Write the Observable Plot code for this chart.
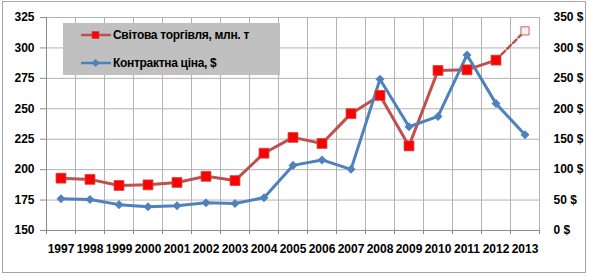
<!DOCTYPE html>
<html><head><meta charset="utf-8">
<script src="https://cdn.jsdelivr.net/npm/d3@7"></script>
<script src="https://cdn.jsdelivr.net/npm/@observablehq/plot@0.6"></script>
<style>
body{margin:0;background:#fff;}
#wrap{position:relative;width:590px;height:276px;font-family:"Liberation Sans",Arial,sans-serif;}
#frame{position:absolute;left:2px;top:1px;width:584px;height:272px;border:1px solid #a6a6a6;box-sizing:border-box;pointer-events:none;}
#legend{position:absolute;left:63px;top:23px;width:217px;height:52px;background:#c0c0c0;font-weight:bold;font-size:12px;letter-spacing:-0.3px;color:#000;}
.item{position:absolute;left:0;height:14px;display:flex;align-items:center;}
.item svg{margin-left:18px;margin-right:2px;}
</style>
</head><body>
<div id="wrap">
<div id="chart"></div>
<div id="legend">
  <div class="item" style="top:5px"><svg width="30" height="12"><line x1="0" y1="6" x2="30" y2="6" stroke="#c0504d" stroke-width="2.5"/><rect x="11" y="2.5" width="7" height="7" fill="#ff0000" stroke="#c0504d" stroke-width="0.7"/></svg><span>Світова торгівля, млн. т</span></div>
  <div class="item" style="top:33px"><svg width="30" height="12"><line x1="0" y1="6" x2="30" y2="6" stroke="#4f81bd" stroke-width="2.5"/><path d="M14.5,2 L18.5,6 L14.5,10 L10.5,6 Z" fill="#4f81bd"/></svg><span>Контрактна ціна, $</span></div>
</div>
<div id="frame"></div>
</div>
<script>
const years = [1997,1998,1999,2000,2001,2002,2003,2004,2005,2006,2007,2008,2009,2010,2011,2012,2013];
// World trade, mln t (left axis) 1997-2012 actual
const trade = [193,192,187,187.5,189.5,194.5,191,213.5,226.5,221.5,246,261,219.5,281.5,282,290];
// Forecast 2013 (hollow marker)
const tradeForecastYears = [2012,2013];
const tradeForecast = [290,314];
// Contract price, $ (right axis)
const price = [52,51,42.5,39,40.5,45.5,44.5,54,107,116,100.5,248.5,170.5,187.5,288.5,208.5,157.5];
const leftTicks = [150,175,200,225,250,275,300,325];
const rightTicks = [0,50,100,150,200,250,300,350];

const toLeft = v => 150 + v * (175/350);
const fromLeft = d => Math.round((d - 150) * 350/175);

const tradeData = trade.map((v,i)=>({year:years[i], v}));
const fcData = tradeForecast.map((v,i)=>({year:tradeForecastYears[i], v}));
const priceData = price.map((v,i)=>({year:years[i], v:toLeft(v)}));
const bounds = years.map(y=>y-0.5).concat([years[years.length-1]+0.5]);

const diamond = {draw(ctx, size){const h=Math.sqrt(size/2);ctx.moveTo(0,-h);ctx.lineTo(h,0);ctx.lineTo(0,h);ctx.lineTo(-h,0);ctx.closePath();}};
const font = {fontFamily:'"Liberation Sans",Arial,sans-serif', fontSize:12, fontWeight:"bold", fill:"#000"};

const chart = Plot.plot({
  width:590, height:276,
  marginLeft:46, marginRight:51, marginTop:17, marginBottom:46,
  style:{background:"transparent", color:"#000", fontFamily:'"Liberation Sans",Arial,sans-serif', fontSize:"12px", fontWeight:"bold"},
  x:{domain:[1996.5,2013.5], axis:null},
  y:{domain:[150,325], axis:null},
  marks:[
    Plot.gridX(bounds, {stroke:"#b3b3b3", strokeOpacity:1}),
    Plot.gridY(leftTicks, {stroke:"#b3b3b3", strokeOpacity:1}),
    Plot.ruleX([bounds[0]], {stroke:"#8c8c8c"}),
    Plot.ruleY([leftTicks[0]], {stroke:"#8c8c8c"}),
    Plot.axisY(leftTicks, {anchor:"left", tickSize:6, tickPadding:6, stroke:"#8c8c8c", ...font, label:null}),
    Plot.axisY(rightTicks.map(toLeft), {anchor:"right", tickSize:0, tickPadding:14, tickFormat:d=>fromLeft(d)+" $", ...font, textAnchor:"start", label:null}),
    Plot.axisX(bounds, {anchor:"bottom", tickSize:4, tickFormat:()=>"", stroke:"#8c8c8c", label:null}),
    Plot.axisX(years, {anchor:"bottom", tickSize:0, tickPadding:14, tickFormat:"d", ...font, label:null}),
    Plot.line(fcData, {x:"year", y:"v", stroke:"#c0504d", strokeWidth:2.5, strokeDasharray:"5,3"}),
    Plot.line(tradeData, {x:"year", y:"v", stroke:"#c0504d", strokeWidth:3}),
    Plot.line(priceData, {x:"year", y:"v", stroke:"#4f81bd", strokeWidth:3}),
    Plot.dot(tradeData, {x:"year", y:"v", symbol:"square", r:5.6, fill:"#ff0000", stroke:"#c0504d", strokeWidth:0.8}),
    Plot.dot(fcData.slice(1), {x:"year", y:"v", symbol:"square", r:4.6, fill:"#f2f2f2", stroke:"#d06060", strokeWidth:1}),
    Plot.dot(priceData, {x:"year", y:"v", symbol:diamond, r:3.6, fill:"#4f81bd"})
  ]
});
document.getElementById("chart").appendChild(chart);
</script>
</body></html>
